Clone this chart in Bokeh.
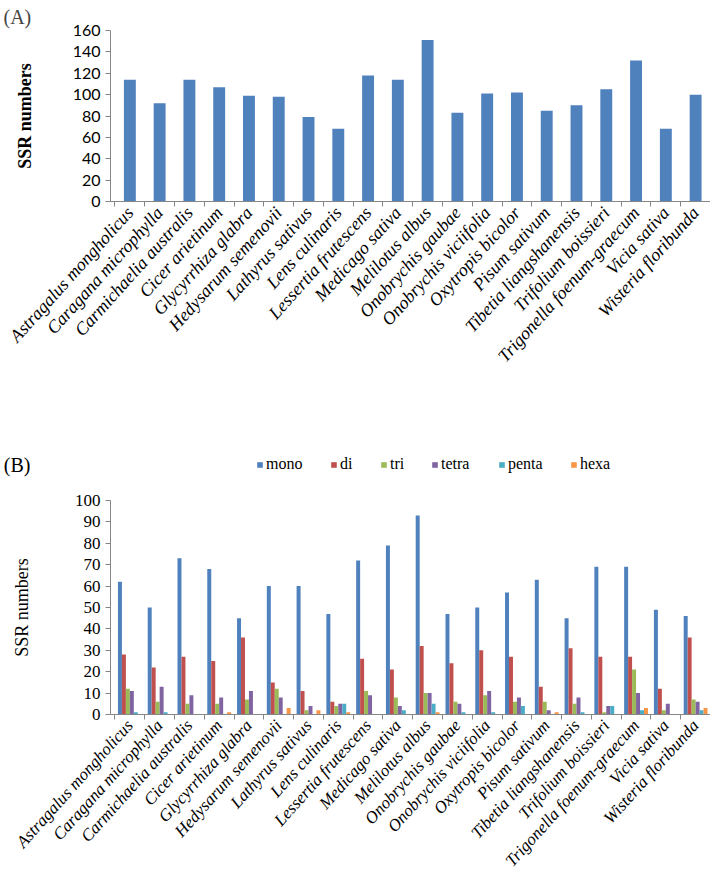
import math
from bokeh.plotting import figure
from bokeh.models import FixedTicker, Range1d, Legend, LegendItem
from bokeh.layouts import column
from bokeh.embed import file_html
from bokeh.resources import INLINE

species = ["Astragalus mongholicus", "Caragana microphylla", "Carmichaelia australis",
           "Cicer arietinum", "Glycyrrhiza glabra", "Hedysarum semenovii", "Lathyrus sativus",
           "Lens culinaris", "Lessertia frutescens", "Medicago sativa", "Melilotus albus",
           "Onobrychis gaubae", "Onobrychis viciifolia", "Oxytropis bicolor", "Pisum sativum",
           "Tibetia liangshanensis", "Trifolium boissieri", "Trigonella foenum-graecum",
           "Vicia sativa", "Wisteria floribunda"]
total_ssr = [114, 92, 114, 107, 99, 98, 79, 68, 118, 114, 151, 83, 101, 102, 85, 90, 105, 132, 68, 100]

mono  = [62, 50, 73, 68, 45, 60, 60, 47, 72, 79, 93, 47, 50, 57, 63, 45, 69, 69, 49, 46]
di    = [28, 22, 27, 25, 36, 15, 11, 6, 26, 21, 32, 24, 30, 27, 13, 31, 27, 27, 12, 36]
tri   = [12, 6, 5, 5, 7, 12, 2, 4, 11, 8, 10, 6, 9, 6, 6, 5, 1, 21, 2, 7]
tetra = [11, 13, 9, 8, 11, 8, 4, 5, 9, 4, 10, 5, 11, 8, 2, 8, 4, 10, 5, 6]
penta = [1, 1, 0, 0, 0, 0, 0, 5, 0, 2, 5, 1, 1, 4, 0, 1, 4, 2, 0, 2]
hexa  = [0, 0, 0, 1, 0, 3, 2, 1, 0, 0, 1, 0, 0, 0, 1, 0, 0, 3, 0, 3]

series_names = ["mono", "di", "tri", "tetra", "penta", "hexa"]
series_vals = [mono, di, tri, tetra, penta, hexa]
series_colors = ["#4F81BD", "#C0504D", "#9BBB59", "#8064A2", "#4BACC6", "#F79646"]

n = len(species)
centers = [i + 0.5 for i in range(n)]
bounds = list(range(n + 1))
AXIS_COLOR = "#868686"
SERIF = "Liberation Serif"
W = 710
LEFT = 107

# page x of each legend square (layout only)
legend_x = [253, 327, 377, 428, 495, 567]


def style_axes(p, ymax, ystep, ylabel_font, ylabel_size, title_style, xfont, title_standoff):
    xa = p.xaxis[0]
    xa.ticker = FixedTicker(ticks=centers, minor_ticks=bounds)
    xa.major_label_overrides = {c: s for c, s in zip(centers, species)}
    xa.major_label_orientation = math.radians(48)
    xa.major_label_text_font = SERIF
    xa.major_label_text_font_style = "italic"
    xa.major_label_text_font_size = xfont
    xa.major_label_text_color = "black"
    xa.major_tick_line_color = None
    xa.major_tick_out = 3
    xa.major_label_standoff = 3
    xa.minor_tick_line_color = AXIS_COLOR
    xa.minor_tick_out = 5
    xa.minor_tick_in = 0
    xa.axis_line_color = AXIS_COLOR

    ya = p.yaxis[0]
    ya.ticker = FixedTicker(ticks=list(range(0, ymax + 1, ystep)))
    ya.major_label_text_font = ylabel_font
    ya.major_label_text_font_size = ylabel_size
    ya.major_label_text_color = "black"
    ya.major_tick_line_color = AXIS_COLOR
    ya.major_tick_out = 5
    ya.major_tick_in = 0
    ya.minor_tick_line_color = None
    ya.axis_line_color = AXIS_COLOR
    ya.axis_label = "SSR numbers"
    ya.axis_label_text_font = SERIF
    ya.axis_label_text_font_size = "18px"
    ya.axis_label_text_font_style = title_style
    ya.axis_label_text_color = "black"
    ya.axis_label_standoff = title_standoff

    p.xgrid.grid_line_color = None
    p.ygrid.grid_line_color = None
    p.outline_line_color = None


# ---------- Panel A ----------
pA = figure(width=W, height=448, x_range=Range1d(-0.15, n), y_range=Range1d(0, 160),
            output_backend="svg", toolbar_location=None, title="(A)",
            min_border_left=LEFT, min_border_right=0, min_border_top=30, min_border_bottom=247)
pA.vbar(x=centers, top=total_ssr, width=0.4, fill_color="#4F81BD", line_color=None)
style_axes(pA, 160, 20, "Lato", "16px", "bold", "18px", 35)
pA.title.align = "left"
pA.title.offset = -LEFT
pA.title.standoff = 5
pA.title.text_font = SERIF
pA.title.text_font_size = "20px"
pA.title.text_font_style = "normal"

# ---------- Header for panel B: "(B)" and the legend ----------
HB = 34
headB = figure(width=W, height=HB, x_range=Range1d(0, W - LEFT), y_range=Range1d(0, HB),
               x_axis_type=None, output_backend="svg", toolbar_location=None,
               min_border_left=LEFT, min_border_right=0, min_border_top=0, min_border_bottom=0)
headB.outline_line_color = None
headB.ygrid.grid_line_color = None
hy = headB.yaxis[0]
hy.ticker = FixedTicker(ticks=[18], minor_ticks=[])
hy.major_label_overrides = {18: "(B)"}
hy.major_label_text_font = SERIF
hy.major_label_text_font_size = "20px"
hy.major_label_text_color = "black"
hy.major_tick_line_color = None
hy.major_tick_out = 0
hy.major_tick_in = 0
hy.minor_tick_line_color = None
hy.axis_line_color = None
hy.major_label_standoff = 80

# ---------- Panel B ----------
pB = figure(width=W, height=397, x_range=Range1d(-0.15, n), y_range=Range1d(0, 100),
            output_backend="svg", toolbar_location=None,
            min_border_left=LEFT, min_border_right=0, min_border_top=18, min_border_bottom=162)
bw = 0.8 / len(series_names)
for k, (name, vals, col) in enumerate(zip(series_names, series_vals, series_colors)):
    off = (k - (len(series_names) - 1) / 2) * bw
    pB.vbar(x=[c + off for c in centers], top=vals, width=bw, fill_color=col, line_color=None)
    proxy = headB.vbar(x=[0], top=[0], width=0, fill_color=col, line_color=None)
    lg = Legend(items=[LegendItem(label=name, renderers=[proxy])],
                location=(legend_x[k] - LEFT, 9),
                border_line_color=None, background_fill_alpha=0,
                glyph_width=7, glyph_height=7, label_height=7, label_width=1,
                label_standoff=3, padding=0, margin=0,
                label_text_font=SERIF, label_text_font_size="16px",
                label_text_color="black")
    headB.add_layout(lg)
style_axes(pB, 100, 10, SERIF, "17px", "normal", "17px", 40)

layout = column(pA, headB, pB)
open("out.html", "w").write(file_html(layout, INLINE))
